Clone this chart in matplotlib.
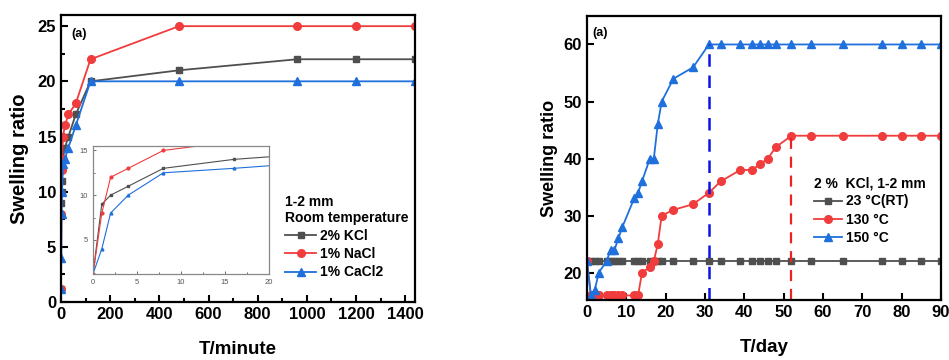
import numpy as np
import matplotlib
matplotlib.use("Agg")
import matplotlib.pyplot as plt

plt.rcParams['font.family'] = ['Liberation Sans', 'DejaVu Sans']
plt.rcParams['font.weight'] = 'bold'

# colours
GRAY = '#4f4f4f'
RED = '#f03c3c'
BLUE = '#1f6fdc'

# left panel data (time in minutes)
t_min = [0, 1, 2, 4, 8, 16, 30, 60, 120, 480, 960, 1200, 1440]
kcl = [1.2, 9, 10, 11, 13, 14, 15, 17, 20, 21, 22, 22, 22]
nacl = [1.2, 8, 12, 13, 15, 16, 17, 18, 22, 25, 25, 25, 25]
cacl2 = [1.2, 4, 8, 10, 12.5, 13, 14, 16, 20, 20, 20, 20, 20]

# right panel data (time in days)
t_day = [0, 1, 2, 3, 5, 6, 7, 8, 9, 12, 13, 14, 16, 17, 18, 19, 22, 27,
         31, 34, 39, 42, 44, 46, 48, 52, 57, 65, 75, 80, 85, 90]
rt = [22] * len(t_day)
c130 = [22, 16, 16, 16, 16, 16, 16, 16, 16, 16, 16, 20, 21, 22, 25, 30, 31, 32,
        34, 36, 38, 38, 39, 40, 42, 44, 44, 44, 44, 44, 44, 44]
c150 = [22, 16, 17, 20, 22, 24, 24, 26, 28, 33, 34, 36, 40, 40, 46, 50, 54, 56,
        60, 60, 60, 60, 60, 60, 60, 60, 60, 60, 60, 60, 60, 60]
plateau_150 = (31, 60)
plateau_130 = (52, 44)

fig = plt.figure(figsize=(9.49, 3.6), dpi=100)

#----- left panel
ax1 = fig.add_axes([0.0643, 0.161, 0.373, 0.797])
ax1.plot(t_min, kcl, '-s', color=GRAY, lw=1.3, ms=5, label='2% KCl')
ax1.plot(t_min, nacl, '-o', color=RED, lw=1.3, ms=5.5, label='1% NaCl')
ax1.plot(t_min, cacl2, '-^', color=BLUE, lw=1.3, ms=5.5, label='1% CaCl2')
ax1.set_xlim(0, 1440)
ax1.set_ylim(0, 26)
ax1.set_xticks(np.arange(0, 1401, 200))
ax1.set_xticks(np.arange(0, 1441, 100), minor=True)
ax1.set_yticks(np.arange(0, 26, 5))
ax1.set_yticks(np.arange(0, 26, 2.5), minor=True)
ax1.tick_params(direction='in', which='both', labelsize=12, width=1.5)
ax1.tick_params(which='major', length=5)
ax1.tick_params(which='minor', length=3)
for s in ax1.spines.values():
    s.set_linewidth(1.6)
ax1.set_xlabel('T/minute', fontsize=13.5, fontweight='bold', labelpad=14)
ax1.set_ylabel('Swelling ratio', fontsize=14.5, fontweight='bold', labelpad=6)
ax1.text(0.03, 0.935, '(a)', transform=ax1.transAxes, fontsize=9, fontweight='bold', va='center')
leg1 = ax1.legend(title='1-2 mm\nRoom temperature', loc='lower right', bbox_to_anchor=(1.01, 0.045),
                  frameon=False, fontsize=10, title_fontproperties={'size': 10, 'weight': 'bold'},
                  handlelength=2.2, handletextpad=0.3, labelspacing=0.3, borderpad=0.2)
leg1._legend_box.align = 'left'

# inset
ins = fig.add_axes([0.098, 0.239, 0.1855, 0.3556])
ins.plot(t_min, kcl, '-s', color=GRAY, lw=0.8, ms=2)
ins.plot(t_min, nacl, '-o', color=RED, lw=0.8, ms=2)
ins.plot(t_min, cacl2, '-^', color=BLUE, lw=0.8, ms=2)
ins.set_xlim(0, 20)
ins.set_ylim(1.2, 15.5)
ins.set_xticks([0, 5, 10, 15, 20])
ins.set_xticks(np.arange(0, 21, 2.5), minor=True)
ins.set_yticks([5, 10, 15])
ins.set_yticks(np.arange(2.5, 15.1, 2.5), minor=True)
ins.tick_params(which='both', direction='in', labelsize=5.5, colors='#555555', width=0.6)
ins.tick_params(which='major', length=2.5)
ins.tick_params(which='minor', length=1.5)
for lab in ins.get_xticklabels() + ins.get_yticklabels():
    lab.set_fontweight('normal')
for s in ins.spines.values():
    s.set_color('#888888')
    s.set_linewidth(0.9)

#----- right panel
ax2 = fig.add_axes([0.6185, 0.1667, 0.373, 0.789])
ax2.plot(t_day, rt, '-s', color=GRAY, lw=1.3, ms=5, label='23 °C(RT)')
ax2.plot(t_day, c130, '-o', color=RED, lw=1.3, ms=5.5, label='130 °C')
ax2.plot(t_day, c150, '-^', color=BLUE, lw=1.3, ms=5.5, label='150 °C')
ax2.set_xlim(0, 90)
ax2.set_ylim(15.2, 65)
ax2.vlines(plateau_150[0], 15.2, plateau_150[1], colors='#0a14e6', linestyles=(0, (5, 3.5)), lw=1.8)
ax2.vlines(plateau_130[0], 15.2, plateau_130[1], colors='#ee2222', linestyles=(0, (5, 3.5)), lw=1.6)
ax2.set_xticks(np.arange(0, 91, 10))
ax2.set_yticks([20, 30, 40, 50, 60])
ax2.tick_params(direction='in', labelsize=12, width=1.5, length=5)
for s in ax2.spines.values():
    s.set_linewidth(1.6)
ax2.set_xlabel('T/day', fontsize=13.5, fontweight='bold', labelpad=14)
ax2.set_ylabel('Swelling ratio', fontsize=13, fontweight='bold', labelpad=4)
ax2.text(0.014, 0.94, '(a)', transform=ax2.transAxes, fontsize=9, fontweight='bold', va='center')
leg2 = ax2.legend(title='2 %  KCl, 1-2 mm', loc='lower right', bbox_to_anchor=(0.985, 0.16),
                  frameon=False, fontsize=10, title_fontproperties={'size': 10, 'weight': 'bold'},
                  handlelength=2.0, handletextpad=0.3, labelspacing=0.3, borderpad=0.2)
leg2._legend_box.align = 'left'

fig.savefig('out.png', dpi=100)
